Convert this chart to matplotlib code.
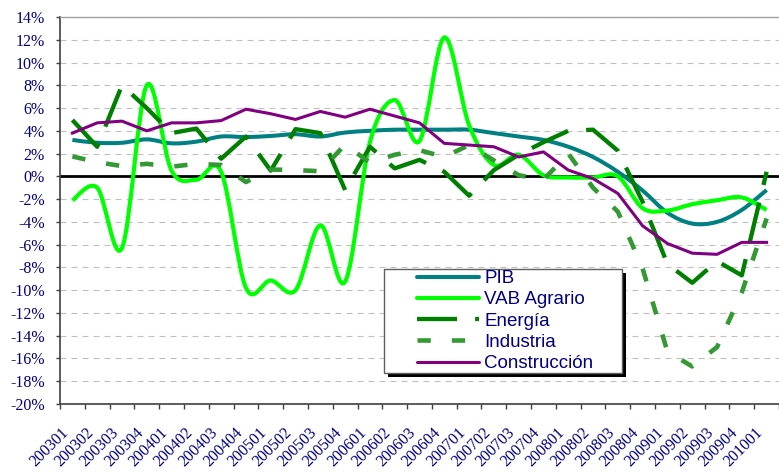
# %%
# Crecimiento interanual: PIB y VAB por ramas, 2003-2010
import numpy as np
from matplotlib import pyplot as plt
from matplotlib.path import Path
from matplotlib.patches import PathPatch, Rectangle
from matplotlib.lines import Line2D
from matplotlib import transforms

# %%
quarters = ['200301', '200302', '200303', '200304', '200401', '200402', '200403', '200404',
            '200501', '200502', '200503', '200504', '200601', '200602', '200603', '200604',
            '200701', '200702', '200703', '200704', '200801', '200802', '200803', '200804',
            '200901', '200902', '200903', '200904', '201001']

pib = [3.2, 2.95, 2.95, 3.25, 2.9, 3.05, 3.5, 3.45, 3.55, 3.7, 3.5, 3.85, 4.0, 4.1, 4.1,
       4.1, 4.1, 3.8, 3.5, 3.2, 2.6, 1.7, 0.4, -1.25, -3.2, -4.15, -4.0, -2.95, -1.2]
vab_agrario = [-2.1, -1.0, -6.3, 8.0, 0.5, -0.3, 0.4, -9.8, -9.15, -10.0, -4.3, -9.25, 3.0,
               6.7, 3.1, 12.2, 4.5, 1.0, 1.9, 0.1, -0.1, -0.1, 0.0, -2.8, -3.0, -2.45, -2.1,
               -1.85, -2.95]
energia = [4.95, 2.6, 8.0, 6.0, 3.8, 4.2, 1.55, 3.5, 0.5, 4.15, 3.8, -1.2, 2.6, 0.7, 1.45,
           0.4, -1.7, 0.55, 1.9, 3.0, 4.0, 4.1, 2.25, -2.25, -7.7, -9.35, -7.45, -8.7, 0.4]
industria = [1.75, 1.25, 0.9, 1.1, 0.85, 1.1, 1.0, -0.5, 0.6, 0.55, 0.45, 2.8, 1.2, 1.9, 2.3,
             1.7, 2.75, 1.4, 0.1, -0.3, 2.0, -1.0, -3.1, -8.1, -15.4, -16.7, -15.0, -10.2, -3.7]
construccion = [3.8, 4.7, 4.85, 4.0, 4.7, 4.7, 4.9, 5.9, 5.5, 5.0, 5.7, 5.2, 5.9, 5.3, 4.7,
                2.9, 2.75, 2.6, 1.7, 2.15, 0.55, -0.2, -1.5, -4.35, -5.9, -6.75, -6.85, -5.8, -5.8]

navy = '#000080'
W, H = 779, 473


# %%
def smooth_path(x, y):
    # bezier through every point, like the "smoothed line" option of the spreadsheet
    verts = [(x[0], y[0])]
    codes = [Path.MOVETO]
    n = len(x)
    for i in range(n - 1):
        j0 = i - 1 if i > 0 else i
        j3 = i + 2 if i + 2 < n else i + 1
        c1 = (x[i] + (x[i + 1] - x[j0]) / 6, y[i] + (y[i + 1] - y[j0]) / 6)
        c2 = (x[i + 1] - (x[j3] - x[i]) / 6, y[i + 1] - (y[j3] - y[i]) / 6)
        verts += [c1, c2, (x[i + 1], y[i + 1])]
        codes += [Path.CURVE4] * 3
    return Path(verts, codes)


# %%
fig = plt.figure(figsize=(W / 100, H / 100), dpi=100)
ax = fig.add_axes([60 / W, 1 - 404 / H, 1 - 60 / W, (404 - 17) / H])

x = np.arange(len(quarters))

ax.axhline(0, color='black', lw=2.0, zorder=1.5)

styles = {
    'PIB': dict(color='#008080', lw=2.9),
    'VAB Agrario': dict(color='#00ff00', lw=3.0),
    'Energía': dict(color='#008000', lw=3.1, linestyle=(0, (9.3, 4.2))),
    'Industria': dict(color='#339933', lw=3.3, linestyle=(0, (2.9, 4.6))),
    'Construcción': dict(color='#800080', lw=2.2),
}

ax.add_patch(PathPatch(smooth_path(x, pib), fill=False, edgecolor=styles['PIB']['color'],
                       lw=styles['PIB']['lw'], zorder=2))
ax.add_patch(PathPatch(smooth_path(x, vab_agrario), fill=False,
                       edgecolor=styles['VAB Agrario']['color'],
                       lw=styles['VAB Agrario']['lw'], zorder=2.1))
ax.plot(x, energia, solid_capstyle='butt', dash_capstyle='butt', zorder=2.2, **styles['Energía'])
ax.plot(x, industria, dash_capstyle='butt', zorder=2.3, **styles['Industria'])
ax.plot(x, construccion, zorder=2.4, **styles['Construcción'])

# axes
ax.set_xlim(-0.5, -0.5 + 719 / 25.15)
ax.set_ylim(-20, 14)
yt = list(range(-20, 15, 2))
ax.set_yticks(yt)
ax.set_yticklabels(['{}%'.format(v) for v in yt])
ax.yaxis.grid(True, color='#c0c0c0', lw=0.8, linestyle=(0, (5.4, 4.5)))
ax.set_axisbelow(True)

ax.set_xticks(x)
ax.set_xticklabels(quarters, rotation=45, ha='right', va='center', rotation_mode='anchor')
ax.set_xticks(np.arange(-0.5, len(quarters), 1), minor=True)
ax.tick_params(axis='x', which='major', length=0, pad=19)
ax.tick_params(axis='x', which='minor', length=3.6, width=1, color='#404040', direction='out')
ax.tick_params(axis='y', length=3, width=1, color='#404040', direction='out', pad=8)
shift = transforms.ScaledTranslation(-6 / 100, 0, fig.dpi_scale_trans)
for lab in ax.get_xticklabels():
    lab.set_transform(lab.get_transform() + shift)
for lab in ax.get_xticklabels() + ax.get_yticklabels():
    lab.set_fontfamily('Liberation Serif')
    lab.set_fontsize(11.5)
    lab.set_color(navy)

ax.spines['right'].set_visible(False)
ax.spines['top'].set_color('#a0a0a0')
ax.spines['top'].set_linewidth(1)
for s in ['left', 'bottom']:
    ax.spines[s].set_color('#404040')
    ax.spines[s].set_linewidth(1.2)

# legend with shadowed box
fig.add_artist(Rectangle((388 / W, 1 - 377 / H), 238 / W, 104 / H, transform=fig.transFigure,
                         facecolor='black', edgecolor='none', zorder=3.9))
fig.add_artist(Rectangle((384 / W, 1 - 373 / H), 238 / W, 104 / H, transform=fig.transFigure,
                         facecolor='white', edgecolor='#606060', lw=1, zorder=4))
handles = [Line2D([], [], solid_capstyle='round', **styles[k]) if k in ('PIB', 'VAB Agrario', 'Construcción')
           else Line2D([], [], dash_capstyle='butt', **styles[k]) for k in styles]
leg = fig.legend(handles, list(styles), loc='upper left', bbox_to_anchor=(417 / W, 1 - 270 / H),
                 bbox_transform=fig.transFigure, frameon=False, borderpad=0, borderaxespad=0,
                 handlelength=3.3, handletextpad=0.3, labelspacing=0.22,
                 prop={'family': 'Liberation Sans', 'size': 13.5}, labelcolor=navy)
leg.set_zorder(5)

fig.savefig('out.png', dpi=100)
